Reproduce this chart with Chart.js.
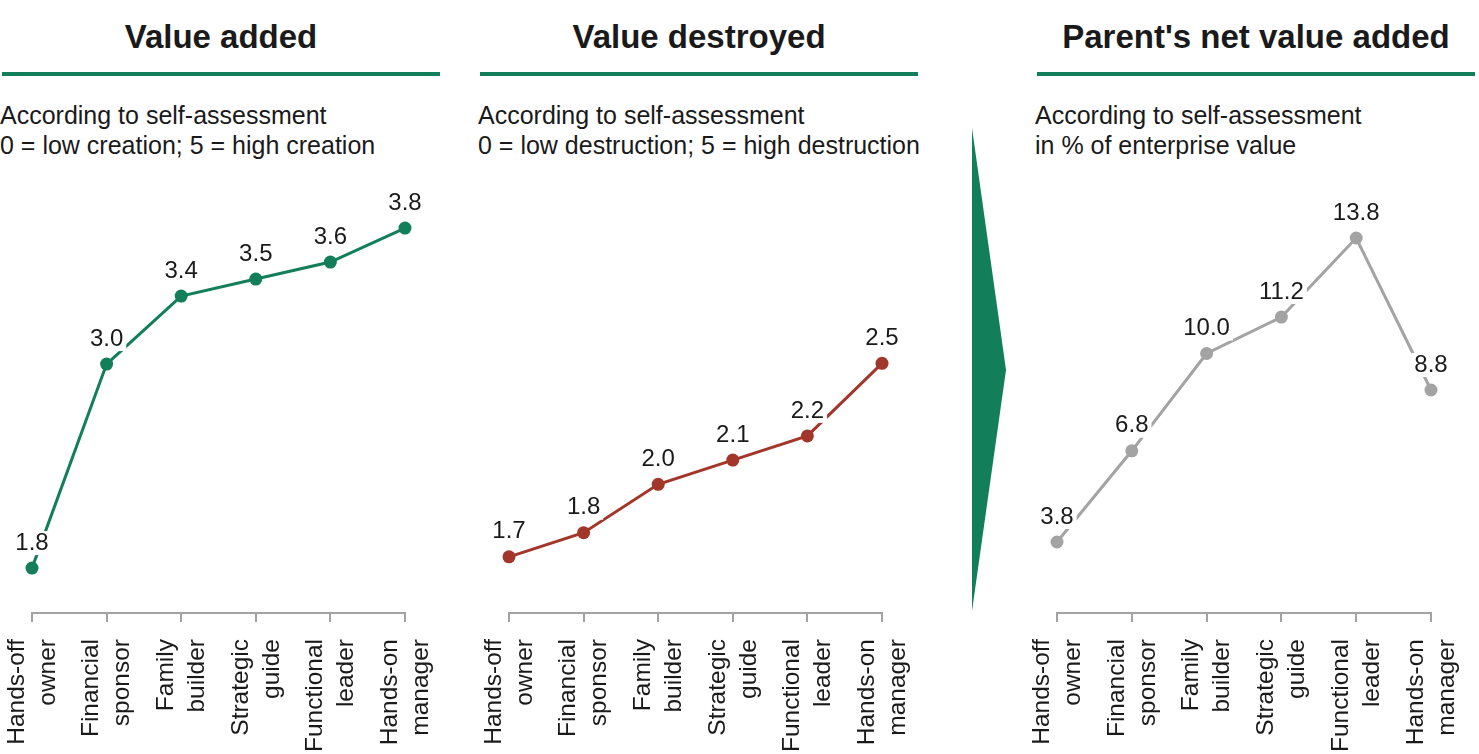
<!DOCTYPE html>
<html>
<head>
<meta charset="utf-8">
<title>Parenting styles: value added vs destroyed</title>
<script src="https://cdn.jsdelivr.net/npm/chart.js@4.4.1/dist/chart.umd.min.js"></script>
<style>
  html, body { margin: 0; padding: 0; background: #fff; }
  body { width: 1479px; height: 754px; position: relative; overflow: hidden;
         font-family: "Liberation Sans", Arial, sans-serif; color: #1a1a1a; }
  .title { position: absolute; top: 17px; line-height: 40px; font-size: 33px; font-weight: bold; text-align: center; }
  .rule { position: absolute; top: 72px; height: 4px; background: #127e5a; }
  .sub { position: absolute; top: 100px; font-size: 25px; line-height: 30px; white-space: nowrap; }
  .panel { position: absolute; top: 170px; height: 584px; }
  #arrow { position: absolute; left: 0; top: 0; }
</style>
</head>
<body>

<div class="title" style="left:2px;width:438px">Value added</div>
<div class="rule" style="left:2px;width:438px"></div>
<div class="sub" style="left:0px">According to self-assessment<br>0 = low creation; 5 = high creation</div>

<div class="title" style="left:480px;width:438px">Value destroyed</div>
<div class="rule" style="left:480px;width:438px"></div>
<div class="sub" style="left:478px">According to self-assessment<br>0 = low destruction; 5 = high destruction</div>

<div class="title" style="left:1037px;width:438px">Parent's net value added</div>
<div class="rule" style="left:1037px;width:438px"></div>
<div class="sub" style="left:1035px">According to self-assessment<br>in % of enterprise value</div>

<svg id="arrow" width="1479" height="754">
  <polygon points="972,128 1006,370 972,611" fill="#127e5a"></polygon>
</svg>

<div class="panel" style="left:0px;width:470px"><canvas id="chart-added"></canvas></div>
<div class="panel" style="left:460px;width:470px"><canvas id="chart-destroyed"></canvas></div>
<div class="panel" style="left:1010px;width:469px"><canvas id="chart-net"></canvas></div>

<script>
// Data
const roles = [
  ['Hands-off', 'owner'],
  ['Financial', 'sponsor'],
  ['Family', 'builder'],
  ['Strategic', 'guide'],
  ['Functional', 'leader'],
  ['Hands-on', 'manager'],
];
const valueAdded = [1.8, 3.0, 3.4, 3.5, 3.6, 3.8];
const valueDestroyed = [1.7, 1.8, 2.0, 2.1, 2.2, 2.5];
const netValueAdded = [3.8, 6.8, 10.0, 11.2, 13.8, 8.8];

const FONT = '"Liberation Sans", Arial, sans-serif';
const AXIS_GREY = '#a3a3a3';

// Value labels above every point, on a white patch that knocks out the line
const valueLabels = {
  id: 'valueLabels',
  afterDatasetsDraw(chart) {
    const ctx = chart.ctx;
    const meta = chart.getDatasetMeta(0);
    const values = chart.data.datasets[0].data;
    ctx.save();
    ctx.font = '24px ' + FONT;
    ctx.textAlign = 'center';
    ctx.textBaseline = 'middle';
    meta.data.forEach((pt, i) => {
      const txt = values[i].toFixed(1);
      const w = ctx.measureText(txt).width;
      const y = pt.y - 25;
      ctx.fillStyle = '#fff';
      ctx.fillRect(pt.x - w / 2 - 3, y - 12, w + 6, 24);
      ctx.fillStyle = '#1a1a1a';
      ctx.fillText(txt, pt.x, y);
    });
    ctx.restore();
  },
};

const makeChart = (id, values, color, yMin, yMax, padLeft, padRight) => {
  const ctx = document.getElementById(id);
  return new Chart(ctx, {
    type: 'line',
    data: {
      labels: roles,
      datasets: [
        {
          data: values,
          borderColor: color,
          backgroundColor: color,
          borderWidth: 3,
          tension: 0,
          pointRadius: 6.5,
          pointHoverRadius: 6.5,
          pointBackgroundColor: color,
          pointBorderWidth: 0,
          clip: false,
        },
      ],
    },
    options: {
      responsive: true,
      maintainAspectRatio: false,
      animation: false,
      events: [],
      layout: {
        padding: { top: 30, bottom: 0, left: padLeft, right: padRight },
      },
      scales: {
        y: {
          display: false,
          min: yMin,
          max: yMax,
        },
        x: {
          offset: false,
          grid: {
            display: true,
            drawOnChartArea: false,
            drawTicks: true,
            tickLength: 9,
            color: AXIS_GREY,
            lineWidth: 2,
          },
          border: { display: true, color: AXIS_GREY, width: 2 },
          ticks: {
            autoSkip: false,
            minRotation: 90,
            maxRotation: 90,
            padding: 17,
            labelOffset: -15,
            color: '#1a1a1a',
            font: { family: FONT, size: 24.5, lineHeight: '31px' },
          },
          afterFit: (scale) => {
            scale.height = 141;
            scale.paddingLeft = 0;
            scale.paddingRight = 0;
          },
        },
      },
      plugins: {
        legend: { display: false },
        tooltip: { enabled: false },
      },
    },
    plugins: [valueLabels],
  });
};

makeChart('chart-added', valueAdded, '#127e5a', 1.536, 3.965, 32, 65);
makeChart('chart-destroyed', valueDestroyed, '#a3362b', 1.468, 3.175, 49, 48);
makeChart('chart-net', netValueAdded, '#a3a3a3', 1.464, 15.05, 47, 48);
</script>
</body>
</html>
